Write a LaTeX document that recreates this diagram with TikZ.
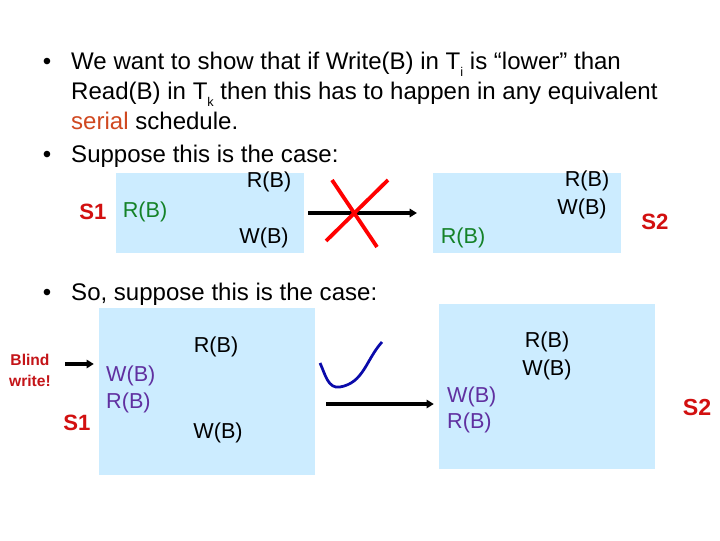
\documentclass[tikz,border=0pt]{standalone}
\usepackage{fontspec}
\setmainfont{Liberation Sans}
\usetikzlibrary{arrows.meta, positioning}

\definecolor{boxblue}{RGB}{204,236,255}
\definecolor{serialred}{RGB}{208,72,32}
\definecolor{labelred}{RGB}{210,16,16}
\definecolor{blindred}{RGB}{196,20,24}
\definecolor{readgreen}{RGB}{20,130,40}
\definecolor{blindpurple}{RGB}{96,48,160}
\definecolor{checkblue}{RGB}{10,10,170}

\newcommand{\subidx}[1]{\raisebox{-0.55ex}{\fontsize{12}{12}\selectfont #1}}

\tikzset{
  bodytxt/.style={font=\fontsize{22.8}{28}\selectfont,inner sep=0pt,anchor=base west},
  bulletdot/.style={font=\fontsize{22.8}{28}\selectfont,inner sep=0pt,anchor=base},
  schedbox/.style={rectangle,fill=boxblue,draw=none,inner sep=0pt},
  optxt/.style={font=\fontsize{20.5}{24}\selectfont,inner sep=0pt},
  slabel/.style={font=\fontsize{21}{24}\selectfont\bfseries,text=labelred,inner sep=0pt},
  arr/.style={-{Triangle[length=0.24cm,width=0.28cm]},line width=3.3pt}
}

\begin{document}
\begin{tikzpicture}

  \useasboundingbox[fill=white] (0,0) rectangle (24,18);

  % First bullet
  \node[bulletdot] (d1) at (1.567,15.667) {•};
  \node[bodytxt] (l1) at (2.367,15.667) {We want to show that if Write(B) in T\subidx{i} is “lower” than};
  \node[bodytxt] (l2) at (2.367,14.667) {Read(B) in T\subidx{k} then this has to happen in any equivalent};
  \node[bodytxt] (l3) at (2.367,13.667) {\textcolor{serialred}{serial} schedule.};

  % Second bullet
  \node[bulletdot] (d2) at (1.567,12.567) {•};
  \node[bodytxt] (l4) at (2.367,12.567) {Suppose this is the case:};

  % Upper schedules
  \node[schedbox,minimum width=6.267cm,minimum height=2.667cm] (box1) at (7.0,10.9) {};
  \node[schedbox,minimum width=6.267cm,minimum height=2.667cm] (box2) at (17.567,10.9) {};

  \node[slabel] (s1a) at (3.1,10.933) {S1};
  \node[optxt,text=readgreen] (r1a) at (4.833,10.933) {R(B)};
  \node[optxt] (r1b) at (8.967,11.933) {R(B)};
  \node[optxt] (w1b) at (8.8,10.067) {W(B)};

  \node[optxt] (r2b) at (19.567,11.967) {R(B)};
  \node[optxt] (w2b) at (19.4,11.033) {W(B)};
  \node[optxt,text=readgreen] (r2a) at (15.433,10.067) {R(B)};
  \node[slabel] (s2a) at (21.833,10.6) {S2};

  \draw[arr] ([xshift=0.13cm]box1.east) -- ([xshift=-0.53cm]box2.west);

  % Red cross
  \draw[red,line width=3.6pt] (11.067,12.0) -- (12.567,9.767);
  \draw[red,line width=3.6pt] (12.933,12.0) -- (10.867,9.967);

  % Third bullet
  \node[bulletdot] (d3) at (1.567,7.967) {•};
  \node[bodytxt] (l5) at (2.367,7.967) {So, suppose this is the case:};

  % Lower schedules
  \node[schedbox,minimum width=7.2cm,minimum height=5.567cm] (box3) at (6.9,4.95) {};
  \node[schedbox,minimum width=7.2cm,minimum height=5.5cm] (box4) at (18.233,5.117) {};

  \node[font=\fontsize{14.8}{20}\selectfont\bfseries,text=blindred,align=center,inner sep=0pt] (blind) at (1.0,5.667) {Blind\\write!};
  \coordinate (bwtail) at (2.167,5.867);
  \draw[arr] (bwtail) -- ([xshift=-0.167cm]box3.west |- bwtail);

  \node[optxt,text=blindpurple,anchor=west] (w3a) at (3.533,5.467) {W(B)};
  \node[optxt,text=blindpurple,anchor=west] (r3a) at (3.533,4.567) {R(B)};
  \node[slabel] (s1b) at (2.567,3.9) {S1};
  \node[optxt] (r3b) at (7.2,6.433) {R(B)};
  \node[optxt] (w3b) at (7.267,3.567) {W(B)};

  \node[optxt] (r4b) at (18.233,6.6) {R(B)};
  \node[optxt] (w4b) at (18.233,5.667) {W(B)};
  \node[optxt,text=blindpurple,anchor=west] (w4a) at (14.9,4.767) {W(B)};
  \node[optxt,text=blindpurple,anchor=west] (r4a) at (14.9,3.9) {R(B)};
  \node[slabel,font=\fontsize{22}{24}\selectfont\bfseries] (s2b) at (23.233,4.433) {S2};

  % Check mark
  \draw[checkblue,line width=2.6pt] (10.667,5.9) to[out=-65,in=190] (11.333,5.1) to[out=10,in=-132] (12.733,6.6);

  \coordinate (lowarr) at (0,4.533);
  \draw[arr] ([xshift=0.367cm]box3.east |- lowarr) -- ([xshift=-0.167cm]box4.west |- lowarr);

\end{tikzpicture}
\end{document}
